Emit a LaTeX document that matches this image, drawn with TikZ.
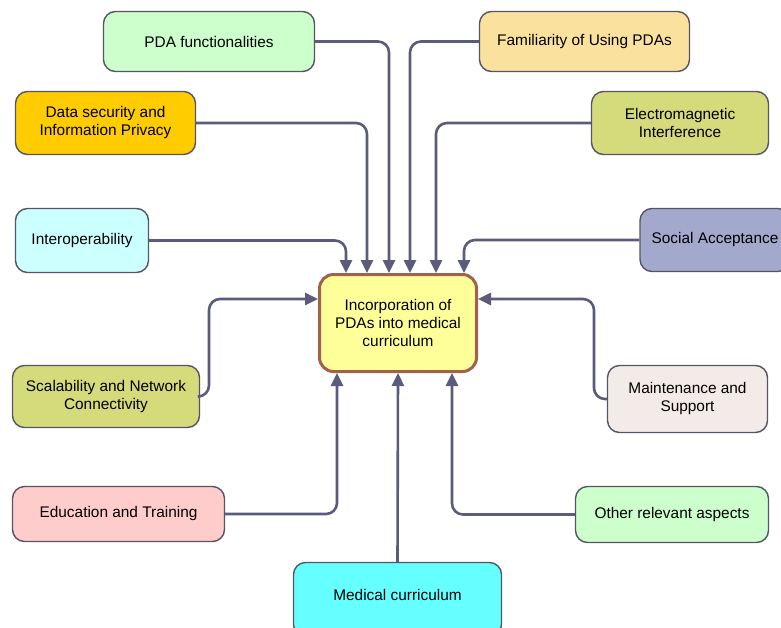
\documentclass[tikz,border=0pt]{standalone}
\usepackage{fontspec}
\setmainfont{Liberation Sans}
\usetikzlibrary{arrows.meta}
\definecolor{linec}{HTML}{5B5B7D}
\definecolor{boxb}{HTML}{555566}
\definecolor{cPDA}{HTML}{CCFFCC}
\definecolor{cFam}{HTML}{FAE29E}
\definecolor{cData}{HTML}{FFCC00}
\definecolor{cEMI}{HTML}{D5DA7B}
\definecolor{cInt}{HTML}{CCFFFF}
\definecolor{cSoc}{HTML}{A3A9CC}
\definecolor{cMain}{HTML}{F3EBE7}
\definecolor{cEdu}{HTML}{FFCCCC}
\definecolor{cMed}{HTML}{66FFFF}
\definecolor{cInc}{HTML}{FFFF99}
\definecolor{cIncB}{HTML}{A0624C}
\begin{document}
\begin{tikzpicture}[x=1pt,y=-1pt,
  box/.style={rectangle, rounded corners=12pt, draw=boxb, line width=1.4pt, inner sep=0pt, align=center, font=\fontsize{15.4}{18}\selectfont},
  conn/.style={draw=linec, line width=2.6pt, rounded corners=11pt, -{Triangle[length=13pt,width=12pt]}}]
\useasboundingbox (0,0) rectangle (781,627);
\node[box, fill=cInc, draw=cIncB, line width=3pt, rounded corners=14pt, minimum width=157pt, minimum height=97pt] (inc) at (398,323) {Incorporation of\\PDAs into medical\\curriculum};
\node[box, fill=cPDA, minimum width=211pt, minimum height=60pt] (pda) at (209,41.5) {PDA functionalities};
\node[box, fill=cFam, minimum width=210pt, minimum height=60pt] (fam) at (584.5,41.5) {Familiarity of Using PDAs};
\node[box, fill=cData, minimum width=180pt, minimum height=63pt] (data) at (105.5,123) {Data security and\\Information Privacy};
\node[box, fill=cEMI, minimum width=177pt, minimum height=63pt] (emi) at (680,123) {Electromagnetic\\Interference};
\node[box, fill=cInt, minimum width=133pt, minimum height=64pt] (int) at (82,240.5) {Interoperability};
\node[box, fill=cSoc, minimum width=150pt, minimum height=63pt] (soc) at (715,240) {Social Acceptance};
\node[box, fill=cEMI, minimum width=187pt, minimum height=62pt] (scal) at (106,396.5) {Scalability and Network\\Connectivity};
\node[box, fill=cMain, minimum width=160pt, minimum height=67pt] (main) at (687.5,399) {Maintenance and\\Support};
\node[box, fill=cEdu, minimum width=212pt, minimum height=55pt] (edu) at (118.5,514) {Education and Training};
\node[box, fill=cPDA, minimum width=193pt, minimum height=56pt] (oth) at (672,514.5) {Other relevant aspects};
\node[box, fill=cMed, minimum width=208pt, minimum height=74pt] (med) at (397.5,599.5) {\raisebox{5pt}[\height][\depth]{Medical curriculum}};
% connectors
\draw[conn] (pda.east) -| ([xshift=-9pt]inc.north);
\draw[conn] (fam.west) -| ([xshift=12pt]inc.north);
\draw[conn] (data.east) -| ([xshift=-31pt]inc.north);
\draw[conn] (emi.west) -| ([xshift=38pt]inc.north);
\draw[conn] (int.east) -| ([xshift=-52pt]inc.north);
\draw[conn] (soc.west) -| ([xshift=66pt]inc.north);
\coordinate (scalk) at (209,396.5);
\coordinate (maink) at (594,399);
\draw[conn] (scal.east) -- (scalk) |- ([yshift=24pt]inc.west);
\draw[conn] (main.west) -- (maink) |- ([yshift=24pt]inc.east);
\draw[conn] (edu.east) -| ([xshift=-61pt]inc.south);
\draw[conn] (oth.west) -| ([xshift=54pt]inc.south);
\draw[conn] (med.north) -- (inc.south);
\end{tikzpicture}
\end{document}
